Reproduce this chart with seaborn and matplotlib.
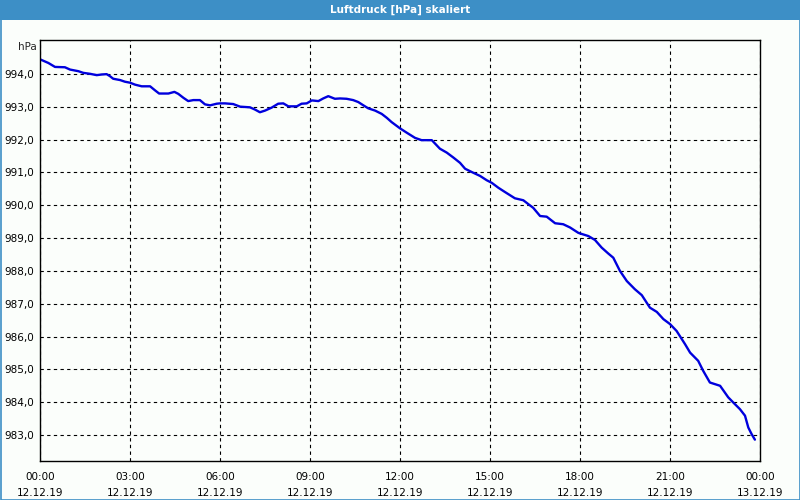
import matplotlib
matplotlib.use("Agg")
import matplotlib.pyplot as plt
import matplotlib.patches as mpatches
import numpy as np
import pandas as pd
import seaborn as sns

# ---- data (hours since 12.12.19 00:00, pressure in hPa) ----
hours = [0.03, 0.28, 0.5, 0.83, 1.0, 1.28, 1.44, 1.67, 1.89, 2.06, 2.22, 2.33, 2.44, 2.67, 2.83,
         3.0, 3.17, 3.39, 3.67, 3.83, 3.97, 4.28, 4.48, 4.61, 4.78, 4.94, 5.11, 5.33, 5.5, 5.67,
         5.89, 6.0, 6.17, 6.44, 6.67, 7.0, 7.17, 7.33, 7.5, 7.72, 7.94, 8.11, 8.28, 8.56, 8.72,
         8.89, 9.06, 9.28, 9.44, 9.61, 9.83, 10.0, 10.22, 10.44, 10.61, 10.78, 10.94, 11.17,
         11.39, 11.56, 11.72, 12.0, 12.22, 12.5, 12.72, 13.06, 13.33, 13.56, 13.78, 14.0, 14.17,
         14.39, 14.67, 14.89, 15.06, 15.28, 15.5, 15.83, 16.11, 16.28, 16.44, 16.67, 16.89,
         17.17, 17.44, 17.67, 17.94, 18.0, 18.28, 18.5, 18.72, 18.94, 19.11, 19.33, 19.56,
         19.83, 20.06, 20.33, 20.56, 20.78, 21.0, 21.22, 21.5, 21.67, 21.94, 22.11, 22.33,
         22.67, 22.94, 23.11, 23.33, 23.5, 23.61, 23.72, 23.83]
pressure = [994.43, 994.33, 994.21, 994.2, 994.13, 994.08, 994.03, 994.0, 993.96, 993.98, 993.99,
            993.93, 993.85, 993.81, 993.76, 993.73, 993.67, 993.62, 993.62, 993.5, 993.4, 993.4,
            993.45, 993.39, 993.27, 993.17, 993.2, 993.2, 993.07, 993.04, 993.09, 993.1, 993.1,
            993.08, 993.0, 992.98, 992.91, 992.83, 992.88, 992.97, 993.09, 993.1, 993.01, 993.01,
            993.09, 993.1, 993.19, 993.17, 993.25, 993.32, 993.24, 993.25, 993.24, 993.2, 993.14,
            993.04, 992.95, 992.88, 992.78, 992.66, 992.53, 992.34, 992.21, 992.05, 991.98, 991.98,
            991.72, 991.6, 991.45, 991.29, 991.11, 991.01, 990.89, 990.76, 990.68, 990.53, 990.4,
            990.21, 990.15, 990.03, 989.92, 989.67, 989.65, 989.45, 989.42, 989.32, 989.16, 989.14,
            989.06, 988.94, 988.71, 988.53, 988.4, 988.0, 987.69, 987.44, 987.26, 986.88, 986.75,
            986.53, 986.38, 986.17, 985.77, 985.51, 985.26, 984.95, 984.6, 984.5, 984.15, 983.99,
            983.79, 983.59, 983.23, 983.03, 982.86]

x_tick_hours = [0, 3, 6, 9, 12, 15, 18, 21, 24]
x_tick_labels = ["00:00\n12.12.19", "03:00\n12.12.19", "06:00\n12.12.19", "09:00\n12.12.19",
                 "12:00\n12.12.19", "15:00\n12.12.19", "18:00\n12.12.19", "21:00\n12.12.19",
                 "00:00\n13.12.19"]
y_ticks = [983, 984, 985, 986, 987, 988, 989, 990, 991, 992, 993, 994]
y_tick_labels = [f"{v:.1f}".replace(".", ",") for v in y_ticks]
title = "Luftdruck [hPa] skaliert"
unit = "hPa"

df = pd.DataFrame({"Stunde": hours, "Luftdruck": pressure})

# ---- style ----
sns.set_style("white")
plt.rcParams["font.family"] = ["DejaVu Sans"]
bg = "#fbfefb"
bar = "#3d8fc6"

fig = plt.figure(figsize=(8, 5), dpi=100, facecolor=bg)
ax = fig.add_axes([40 / 800, 1 - 461 / 500, 720 / 800, (461 - 40) / 500])
ax.set_facecolor(bg)

sns.lineplot(data=df, x="Stunde", y="Luftdruck", ax=ax, color="#0000dd", linewidth=1.7)

ax.set_xlim(0, 24)
ax.set_ylim(982.21, 995.03)
ax.set_xticks(x_tick_hours)
ax.set_xticklabels(x_tick_labels, fontsize=7.5, linespacing=1.75)
ax.set_xticks(np.arange(0, 25, 1), minor=True)
ax.set_yticks(y_ticks)
ax.set_yticklabels(y_tick_labels, fontsize=7.5)
ax.set_xlabel("")
ax.set_ylabel("")

ax.tick_params(axis="x", which="major", direction="out", length=3, width=0.8, pad=5, colors="black")
ax.tick_params(axis="x", which="minor", direction="out", length=3, width=0.8)
ax.tick_params(axis="y", which="major", length=0, pad=4, colors="black")

ax.grid(True, axis="both", which="major", color="black", linestyle=(0, (3, 3)), linewidth=0.8)
for s in ax.spines.values():
    s.set_visible(True)
    s.set_color("black")
    s.set_linewidth(1.0)

ax.text(-0.005, 1 - 6.5 / 421, unit, transform=ax.transAxes, ha="right", va="center", fontsize=7.5)

# title bar
fig.patches.append(mpatches.Rectangle((0, 1 - 20 / 500), 1, 20 / 500, transform=fig.transFigure,
                                      facecolor=bar, edgecolor="none", zorder=0))
fig.text(0.5, 1 - 10 / 500, title, ha="center", va="center", color="white",
         fontsize=7.5, fontweight="bold")
# window border
fig.patches.append(mpatches.Rectangle((0.5 / 800, 0.5 / 500), 799 / 800, 499 / 500, transform=fig.transFigure,
                                      facecolor="none", edgecolor=bar, linewidth=1.2, zorder=5))

fig.savefig("out.png", dpi=100, facecolor=bg)
